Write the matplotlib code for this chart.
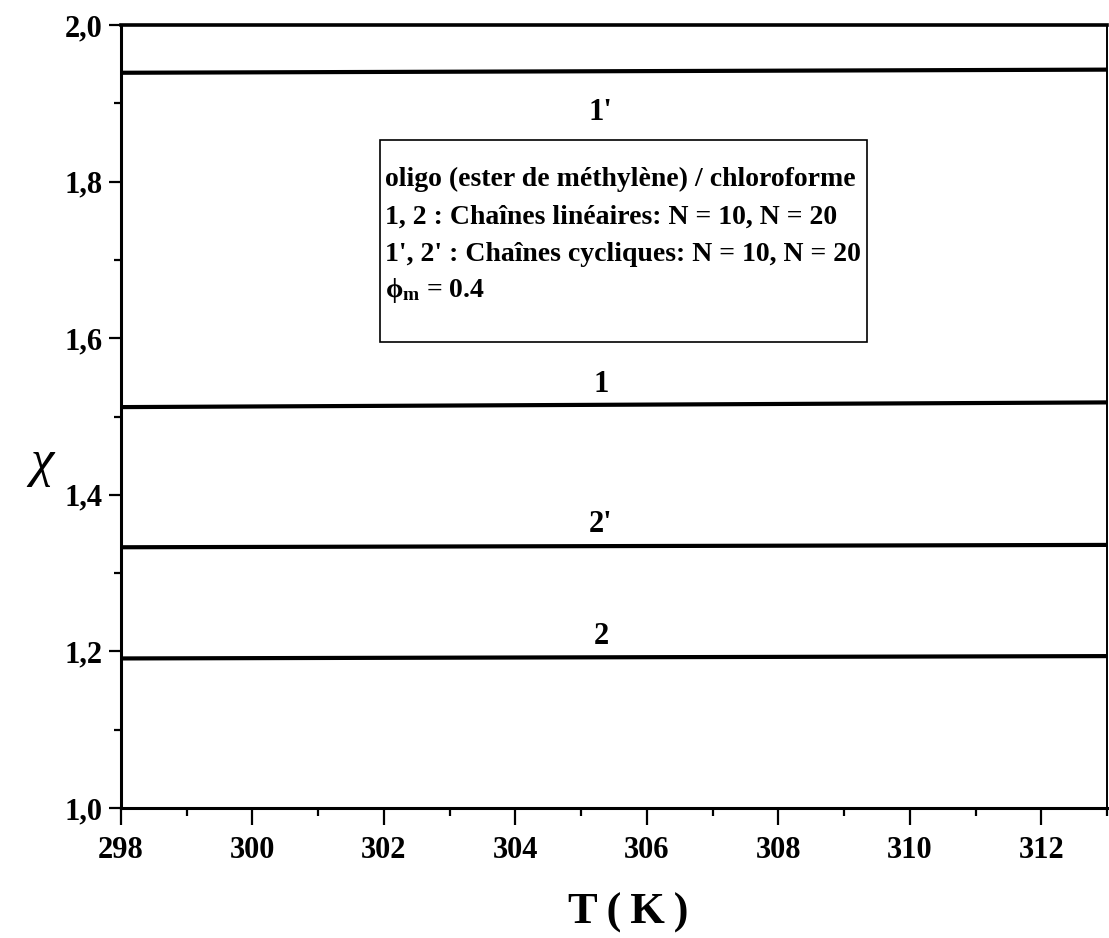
import numpy as np
import matplotlib.pyplot as plt
from matplotlib.patches import Rectangle
from matplotlib.ticker import MultipleLocator

# temperature range and chi values at both ends (lines are nearly flat)
T = [298, 313]
chi_1p = [1.939, 1.943]   # 1'
chi_1 = [1.512, 1.518]    # 1
chi_2p = [1.333, 1.336]   # 2'
chi_2 = [1.191, 1.194]    # 2

curve_labels = ["1'", "1", "2'", "2"]
label_x = 305.3
label_y = [1.888, 1.522, 1.343, 1.201]

xticks = [298, 300, 302, 304, 306, 308, 310, 312]
yticks = [1.0, 1.2, 1.4, 1.6, 1.8, 2.0]

box_lines = [
    "oligo (ester de méthylène) / chloroforme",
    "1, 2 : Chaînes linéaires: N = 10, N = 20",
    "1', 2' : Chaînes cycliques: N = 10, N = 20",
    "$\\phi_{m}$ = 0.4",
]

plt.rcParams['font.family'] = ['Liberation Serif', 'DejaVu Serif']
plt.rcParams['font.weight'] = 'bold'
plt.rcParams['mathtext.fontset'] = 'custom'
plt.rcParams['mathtext.rm'] = 'Liberation Serif:bold'
plt.rcParams['mathtext.it'] = 'Liberation Serif:bold'
plt.rcParams['mathtext.bf'] = 'Liberation Serif:bold'

fig = plt.figure(figsize=(11.09, 9.38), dpi=100)
ax = fig.add_axes([121 / 1109, 1 - 808 / 938, (1107 - 121) / 1109, (808 - 25) / 938])

for y in (chi_1p, chi_1, chi_2p, chi_2):
    ax.plot(T, y, color='black', lw=3, solid_capstyle='butt')

for lab, ly in zip(curve_labels, label_y):
    va = 'center' if lab == "1'" else 'bottom'
    ax.text(label_x, ly, lab, fontsize=22, fontweight='bold', ha='center', va=va)

ax.set_xlim(298, 313)
ax.set_ylim(1.0, 2.0)
ax.set_xticks(xticks)
ax.set_yticks(yticks)
ax.xaxis.set_minor_locator(MultipleLocator(1))
ax.yaxis.set_minor_locator(MultipleLocator(0.1))
ax.set_yticklabels([f"{v:.1f}".replace('.', ',') for v in yticks])

ax.tick_params(which='major', direction='out', width=1.6, labelsize=22)
ax.tick_params(axis='x', which='major', length=12, pad=8)
ax.tick_params(axis='y', which='major', length=9, pad=4)
ax.tick_params(axis='x', which='minor', direction='out', length=6, width=1.6)
ax.tick_params(axis='y', which='minor', direction='out', length=5, width=1.6)

for s in ('left', 'bottom'):
    ax.spines[s].set_linewidth(2.2)
ax.spines['top'].set_linewidth(2.6)
ax.spines['right'].set_linewidth(1.4)

ax.set_xlabel("T\u2009(\u2009K\u2009)", fontsize=32, fontweight='bold')
ax.xaxis.set_label_coords(0.514, -0.108)
ax.set_ylabel("χ", fontsize=38, fontweight='normal', fontstyle='italic',
              rotation=0, ha='center', va='center')
ax.yaxis.set_label_coords(-0.080, 0.44)

# legend box, drawn as a frame with the text lines inside it
ax.add_patch(Rectangle((0.2627, 0.5951), 0.4939, 0.2580, transform=ax.transAxes,
                       facecolor='white', edgecolor='black', lw=1.2, zorder=3))
box_y = [0.8033, 0.7548, 0.7075, 0.6603]
for txt, by in zip(box_lines, box_y):
    ax.text(0.2677, by, txt, transform=ax.transAxes, fontsize=20,
            fontweight='bold', ha='left', va='center', zorder=4)

fig.savefig('out.png', dpi=100)
